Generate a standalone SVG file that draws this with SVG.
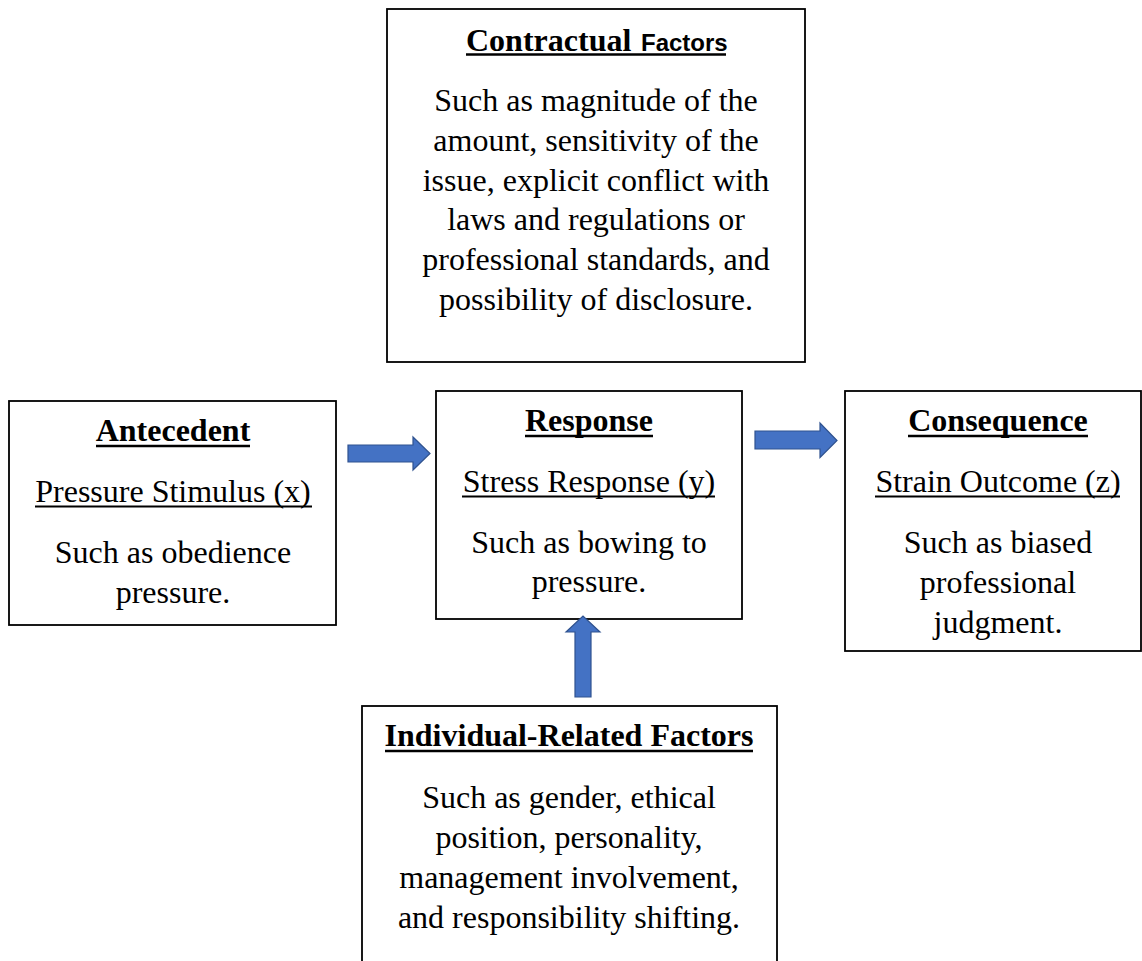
<svg xmlns="http://www.w3.org/2000/svg" width="1142" height="961" viewBox="0 0 1142 961">
<style>
.box{fill:#fff;stroke:#000;stroke-width:1.8}
.t{font-family:"Liberation Serif","Times New Roman",serif;font-size:32px;fill:#000;text-anchor:middle}
.b{font-weight:bold}
.ul{stroke:#000;stroke-width:1.8}
.ulb{stroke:#000;stroke-width:2.6}
.arr{fill:#4472C4;stroke:#2F528F;stroke-width:1.2}
</style>
<rect width="1142" height="961" fill="#fff"/>
<g id="contractual">
<rect class="box" x="387" y="9" width="418" height="353"/>
<text class="t b" x="466" y="51" style="text-anchor:start">Contractual</text>
<text x="641" y="51" style="font-family:'Liberation Sans',Arial,sans-serif;font-weight:bold;font-size:24px;fill:#000">Factors</text>
<line class="ulb" x1="466" y1="54.5" x2="726" y2="54.5"/>
<text class="t" x="596" y="111">Such as magnitude of the</text>
<text class="t" x="596" y="151">amount, sensitivity of the</text>
<text class="t" x="596" y="191">issue, explicit conflict with</text>
<text class="t" x="596" y="230">laws and regulations or</text>
<text class="t" x="596" y="270">professional standards, and</text>
<text class="t" x="596" y="310">possibility of disclosure.</text>
</g>
<g id="antecedent">
<rect class="box" x="9" y="401" width="327" height="224"/>
<text class="t b" x="173" y="441">Antecedent</text>
<line class="ulb" x1="96" y1="446" x2="250" y2="446"/>
<text class="t" x="173" y="502">Pressure Stimulus (x)</text>
<line class="ul" x1="35" y1="506.5" x2="312" y2="506.5"/>
<text class="t" x="173" y="563">Such as obedience</text>
<text class="t" x="173" y="603">pressure.</text>
</g>
<g id="response">
<rect class="box" x="436" y="391" width="306" height="228"/>
<text class="t b" x="589" y="431">Response</text>
<line class="ulb" x1="525" y1="436" x2="653" y2="436"/>
<text class="t" x="589" y="492">Stress Response (y)</text>
<line class="ul" x1="462" y1="496.5" x2="715" y2="496.5"/>
<text class="t" x="589" y="553">Such as bowing to</text>
<text class="t" x="589" y="592">pressure.</text>
</g>
<g id="consequence">
<rect class="box" x="845" y="391" width="296" height="260"/>
<text class="t b" x="998" y="431">Consequence</text>
<line class="ulb" x1="908" y1="436" x2="1088" y2="436"/>
<text class="t" x="998" y="492">Strain Outcome (z)</text>
<line class="ul" x1="875" y1="496.5" x2="1120" y2="496.5"/>
<text class="t" x="998" y="553">Such as biased</text>
<text class="t" x="998" y="593">professional</text>
<text class="t" x="998" y="633">judgment.</text>
</g>
<g id="individual">
<rect class="box" x="362" y="706" width="415" height="262"/>
<text class="t b" x="569" y="746">Individual-Related Factors</text>
<line class="ulb" x1="385" y1="751" x2="753" y2="751"/>
<text class="t" x="569" y="808">Such as gender, ethical</text>
<text class="t" x="569" y="848">position, personality,</text>
<text class="t" x="569" y="888">management involvement,</text>
<text class="t" x="569" y="928">and responsibility shifting.</text>
</g>
<g id="connectors">
<polygon class="arr" points="348,445 413,445 413,437 430,453.5 413,470 413,462 348,462"/>
<polygon class="arr" points="755,431 820,431 820,423 837,440.5 820,457.5 820,449 755,449"/>
<polygon class="arr" points="575,697 575,632 566,632 583,616 600,632 591,632 591,697"/>
</g>
</svg>
